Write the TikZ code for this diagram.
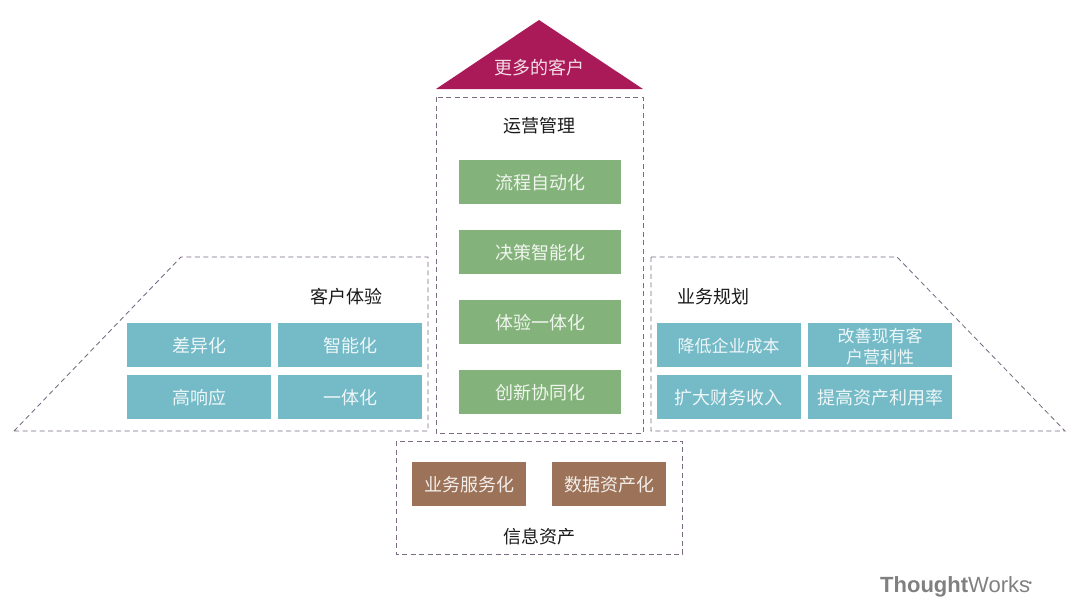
\documentclass[tikz,border=0pt]{standalone}
\usepackage{fontspec}
\setmainfont{Noto Sans CJK SC}
\newfontfamily\logofont{Liberation Sans}
\definecolor{crim}{HTML}{AB1A58}
\definecolor{grn}{HTML}{84B27B}
\definecolor{teal2}{HTML}{74BAC7}
\definecolor{brn}{HTML}{9C7358}
\definecolor{dash}{HTML}{7A6C82}
\newcommand{\lowr}[1]{\raisebox{-1pt}[\height][\depth]{#1}}
\tikzset{
  bx/.style={anchor=center,inner sep=0pt,align=center,font=\fontsize{18}{22}\selectfont},
  greenbox/.style={bx,fill=grn,text=white!88!grn,minimum width=162pt,minimum height=44pt},
  tealbox/.style={bx,fill=teal2,text=white!88!teal2,minimum width=144pt,minimum height=44pt},
  smalltext/.style={font=\fontsize{17}{21}\selectfont},
  brownbox/.style={bx,fill=brn,text=white!88!brn,minimum width=114pt,minimum height=44pt},
  title/.style={inner sep=0pt,font=\fontsize{18}{22}\selectfont,text=black!90},
  dashline/.style={draw=dash,line width=0.85pt,dash pattern=on 5pt off 3.5pt},
}
\begin{document}
\begin{tikzpicture}[x=1pt,y=-1pt]
\useasboundingbox (0,0) rectangle (1080,606);
% roof
\fill[crim] (539,20) -- (643,89) -- (436,89) -- cycle;
\node[bx,text=white!85!crim] (roof) at (539,68) {更多的客户};
% dashed panels
\draw[dashline] (436,97) rectangle (643,433);
\draw[dashline] (14,431) -- (181,257) -- (428,257) -- (428,431) -- cycle;
\draw[dashline] (651,257) -- (897,257) -- (1065,431) -- (651,431) -- cycle;
\draw[dashline] (396,441) rectangle (682.5,554);
% titles
\node[title] (t1) at (539,126) {运营管理};
\node[title] (t2) at (346,297) {客户体验};
\node[title] (t3) at (713,297) {业务规划};
\node[title] (t4) at (539,537) {信息资产};
% centre
\node[greenbox] (g1) at (540,182) {\lowr{流程自动化}};
\node[greenbox] (g2) at (540,252) {\lowr{决策智能化}};
\node[greenbox] (g3) at (540,322) {\lowr{体验一体化}};
\node[greenbox] (g4) at (540,392) {\lowr{创新协同化}};
% left
\node[tealbox] (l1) at (199,345) {\lowr{差异化}};
\node[tealbox] (l2) at (350,345) {\lowr{智能化}};
\node[tealbox] (l3) at (199,397) {\lowr{高响应}};
\node[tealbox] (l4) at (350,397) {\lowr{一体化}};
% right
\node[tealbox,smalltext] (r1) at (728.5,345) {\lowr{降低企业成本}};
\node[tealbox,smalltext] (r2) at (880,345) {\raisebox{-3.5pt}[\height][\depth]{\begin{tabular}{@{}c@{}}改善现有客\\户营利性\end{tabular}}};
\node[tealbox] (r3) at (728.5,397) {\lowr{扩大财务收入}};
\node[tealbox] (r4) at (880,397) {\lowr{提高资产利用率}};
% bottom
\node[brownbox] (b1) at (469,483.5) {\lowr{业务服务化}};
\node[brownbox] (b2) at (609,483.5) {\lowr{数据资产化}};
% logo
\node[inner sep=0pt,anchor=west,text=black!50,font=\logofont\fontsize{22}{26}\selectfont] (logo) at (880,587) {\textbf{Thought}Works\kern-1.5pt\raisebox{6pt}{\fontsize{10}{10}\selectfont •}};
\end{tikzpicture}
\end{document}
